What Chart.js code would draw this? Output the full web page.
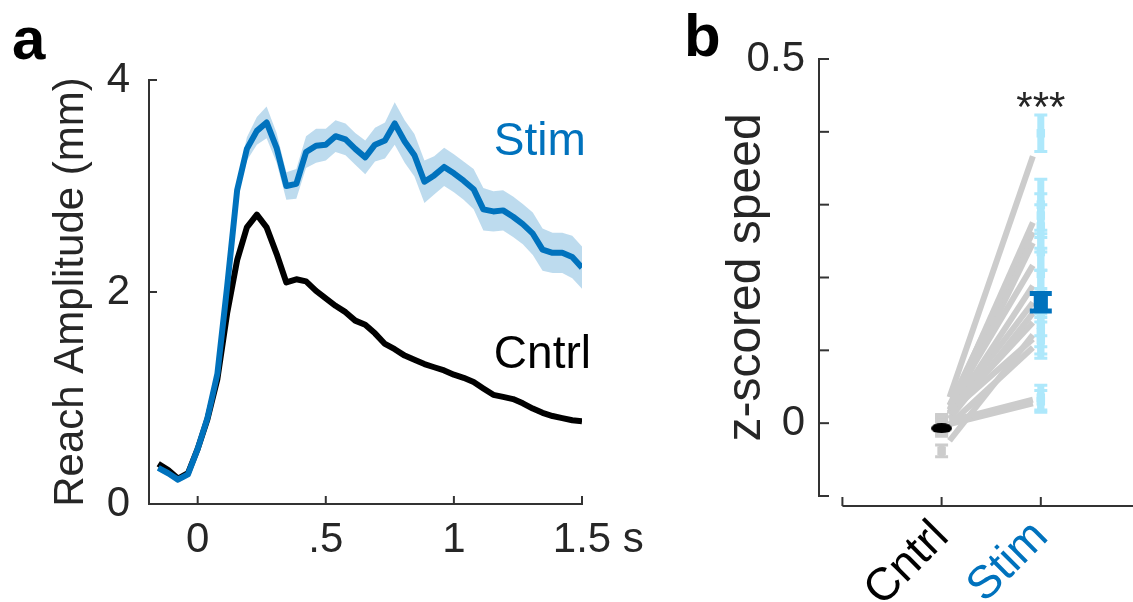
<!DOCTYPE html>
<html>
<head>
<meta charset="utf-8">
<script src="https://cdn.jsdelivr.net/npm/chart.js@4.4.1/dist/chart.umd.min.js"></script>
<style>
body{margin:0;background:#fff;overflow:hidden;width:1133px;height:602px;position:relative;font-family:"Liberation Sans",Arial,sans-serif;}
#cA{position:absolute;left:0;top:0;}
#cB{position:absolute;left:660px;top:0;}
.lbl{position:absolute;font-weight:bold;font-size:60px;line-height:60px;color:#000;}
</style>
</head>
<body>
<div class="lbl" style="left:12px;top:9px">a</div>
<div class="lbl" style="left:684px;top:6px">b</div>
<canvas id="cA" width="660" height="602"></canvas>
<canvas id="cB" width="500" height="602"></canvas>
<script>

/* panel a : reach amplitude over time (s) */
const times=[-0.154,-0.115,-0.077,-0.038,0,0.038,0.077,0.115,0.154,0.192,0.231,0.269,0.308,0.346,0.385,0.423,0.462,0.5,0.538,0.577,0.615,0.654,0.692,0.731,0.769,0.808,0.846,0.885,0.923,0.962,1.0,1.038,1.077,1.115,1.154,1.192,1.231,1.269,1.308,1.346,1.385,1.423,1.462,1.5];

const stimMean=[0.34,0.29,0.23,0.28,0.52,0.81,1.23,2.05,2.96,3.35,3.52,3.60,3.36,3.00,3.02,3.32,3.38,3.39,3.47,3.44,3.35,3.27,3.39,3.43,3.59,3.42,3.29,3.04,3.10,3.18,3.12,3.05,2.97,2.78,2.76,2.77,2.71,2.64,2.55,2.40,2.37,2.37,2.33,2.23];

const stimSem=[0.03,0.03,0.03,0.03,0.03,0.03,0.03,0.05,0.08,0.11,0.13,0.15,0.14,0.13,0.14,0.15,0.16,0.15,0.15,0.15,0.15,0.16,0.16,0.17,0.20,0.20,0.20,0.20,0.18,0.18,0.18,0.18,0.19,0.20,0.19,0.19,0.19,0.19,0.20,0.20,0.19,0.19,0.20,0.20];

const cntrlMean=[0.38,0.32,0.24,0.29,0.52,0.80,1.18,1.80,2.30,2.61,2.73,2.61,2.36,2.09,2.12,2.10,2.01,1.94,1.87,1.81,1.73,1.69,1.61,1.51,1.46,1.40,1.36,1.32,1.29,1.26,1.22,1.19,1.15,1.09,1.03,1.01,0.99,0.95,0.90,0.86,0.83,0.81,0.79,0.78];

const xTicksA=[0,0.5,1,1.5];
const xLabelsA=["0",".5","1","1.5"];
const yTicksA=[0,2,4];

/* panel b : z-scored speed per animal */
const groups=["Cntrl","Stim"];
const cntrlVals=[0.004,-0.006,0.002,-0.010,0.006,-0.003,0.001,-0.008,0.003,-0.038,0.005,-0.012,0.000,-0.004];
const cntrlErr=[0.006,0.006,0.006,0.006,0.006,0.006,0.006,0.006,0.006,0.008,0.006,0.006,0.006,0.006];
const stimVals=[0.398,0.300,0.285,0.270,0.235,0.205,0.180,0.165,0.150,0.135,0.125,0.114,0.035,0.030];
const stimErr=[0.025,0.035,0.030,0.030,0.025,0.030,0.030,0.020,0.030,0.030,0.030,0.025,0.017,0.015];
const groupMean=[-0.007,0.166];
const groupMeanErr=[0.003,0.012];
const yTicksB=[-0.1,0,0.1,0.2,0.3,0.4,0.5];

const blue="#0072bd";
const lightBlue="#aee8fb";
const gray="#cccccc";
const axisCol="#333333";
const textCol="#262626";
const fontFam="'Liberation Sans', Arial, sans-serif";

Chart.defaults.font.family=fontFam;
Chart.defaults.color=textCol;

function pts(ys){
  return times.map((t,i)=>({x:t,y:ys[i]}));
}

function initChartA(){
  const up=stimMean.map((v,i)=>v+stimSem[i]);
  const lo=stimMean.map((v,i)=>v-stimSem[i]);

  const decoA={
    id:"decoA",
    afterDraw(chart){
      const ctx=chart.ctx,xs=chart.scales.x,ys=chart.scales.y;
      ctx.save();
      ctx.strokeStyle=axisCol;
      ctx.lineWidth=2;
      xTicksA.forEach(v=>{
        const p=xs.getPixelForValue(v);
        ctx.beginPath();ctx.moveTo(p,ys.bottom);ctx.lineTo(p,ys.bottom-8);ctx.stroke();
      });
      yTicksA.forEach(v=>{
        const p=ys.getPixelForValue(v);
        ctx.beginPath();ctx.moveTo(xs.left,p);ctx.lineTo(xs.left+8,p);ctx.stroke();
      });
      // unit after last tick label
      ctx.font="42px "+fontFam;
      ctx.fillStyle=textCol;
      ctx.textBaseline="middle";
      ctx.textAlign="left";
      const w=ctx.measureText("1.5").width;
      ctx.fillText(" s",xs.getPixelForValue(1.5)+w/2,xs.top+11+25.2);
      // series names
      ctx.font="46px "+fontFam;
      ctx.textBaseline="alphabetic";
      ctx.fillStyle=blue;
      ctx.fillText("Stim",xs.getPixelForValue(1.156),ys.getPixelForValue(3.29));
      ctx.fillStyle="#000";
      ctx.fillText("Cntrl",xs.getPixelForValue(1.156),ys.getPixelForValue(1.28));
      ctx.restore();
    }
  };

  new Chart(document.getElementById("cA"),{
    type:"line",
    data:{
      datasets:[
        {label:"Stim",data:pts(stimMean),borderColor:blue,borderWidth:6,pointRadius:0,fill:false,borderJoinStyle:"round"},
        {label:"Cntrl",data:pts(cntrlMean),borderColor:"#000",borderWidth:6,pointRadius:0,fill:false,borderJoinStyle:"round"},
        {label:"semUp",data:pts(up),borderColor:"rgba(0,0,0,0)",borderWidth:1,pointRadius:0,backgroundColor:"rgba(0,114,189,0.26)",fill:"+1"},
        {label:"semLo",data:pts(lo),borderColor:"rgba(0,0,0,0)",borderWidth:1,pointRadius:0,fill:false}
      ]
    },
    options:{
      responsive:false,
      animation:false,
      layout:{padding:{top:80,right:78,left:0,bottom:0}},
      plugins:{legend:{display:false},tooltip:{enabled:false}},
      scales:{
        x:{
          type:"linear",min:-0.19,max:1.5,
          grid:{display:false,drawTicks:false},
          border:{display:true,color:axisCol,width:2},
          afterBuildTicks:s=>{s.ticks=xTicksA.map(v=>({value:v}));},
          afterFit:s=>{s.height=98;},
          ticks:{font:{size:42},padding:11,maxRotation:0,autoSkip:false,
            callback:v=>xLabelsA[xTicksA.indexOf(v)]}
        },
        y:{
          min:0,max:4,
          grid:{display:false,drawTicks:false},
          border:{display:true,color:axisCol,width:2},
          afterBuildTicks:s=>{s.ticks=yTicksA.map(v=>({value:v}));},
          afterFit:s=>{s.width=149;},
          ticks:{font:{size:42},padding:19,callback:v=>String(v)},
          title:{display:true,text:"Reach Amplitude (mm)",font:{size:42},color:textCol,padding:{top:46,bottom:0}}
        }
      }
    },
    plugins:[decoA]
  });
}

function ellipseImg(w,h,color){
  const c=document.createElement("canvas");
  c.width=w;c.height=h;
  const g=c.getContext("2d");
  g.fillStyle=color;
  g.beginPath();g.ellipse(w/2,h/2,w/2,h/2,0,0,Math.PI*2);g.fill();
  return c;
}

function initChartB(){
  const gap=0.08;
  const pairLines=stimVals.map((s,i)=>{
    const c=cntrlVals[i];
    return {type:"line",showLine:true,data:[{x:1+gap,y:c+gap*(s-c)},{x:2-gap,y:c+(1-gap)*(s-c)}],
      borderColor:gray,borderWidth:6,pointRadius:0};
  });

  const errBars={
    id:"errBars",
    beforeDatasetDraw(chart,args){
      const ds=chart.data.datasets[args.index];
      if(!ds.errs) return;
      const ctx=chart.ctx,xs=chart.scales.x,ys=chart.scales.y;
      ctx.save();
      ctx.strokeStyle=ds.errColor;
      ds.data.forEach((p,i)=>{
        const x=xs.getPixelForValue(p.x);
        const y1=ys.getPixelForValue(p.y-ds.errs[i]);
        const y2=ys.getPixelForValue(p.y+ds.errs[i]);
        ctx.lineWidth=ds.barW;
        ctx.beginPath();ctx.moveTo(x,y1);ctx.lineTo(x,y2);ctx.stroke();
        ctx.lineWidth=ds.capT;
        ctx.beginPath();
        ctx.moveTo(x-ds.capW/2,y1);ctx.lineTo(x+ds.capW/2,y1);
        ctx.moveTo(x-ds.capW/2,y2);ctx.lineTo(x+ds.capW/2,y2);
        ctx.stroke();
      });
      ctx.restore();
    }
  };

  const decoB={
    id:"decoB",
    afterDraw(chart){
      const ctx=chart.ctx,xs=chart.scales.x,ys=chart.scales.y;
      const base=ys.bottom+10;
      ctx.save();
      ctx.strokeStyle=axisCol;
      ctx.lineWidth=2;
      ctx.beginPath();ctx.moveTo(xs.getPixelForValue(0),base);ctx.lineTo(xs.right,base);ctx.stroke();
      [0,1,2,3].forEach(v=>{
        const p=xs.getPixelForValue(v);
        ctx.beginPath();ctx.moveTo(p,base);ctx.lineTo(p,base-9);ctx.stroke();
      });
      yTicksB.forEach(v=>{
        const p=ys.getPixelForValue(v);
        ctx.beginPath();ctx.moveTo(xs.left,p);ctx.lineTo(xs.left+10,p);ctx.stroke();
      });
      ctx.font="42px "+fontFam;
      ctx.fillStyle=textCol;
      ctx.textAlign="center";
      ctx.textBaseline="alphabetic";
      ctx.fillText("***",xs.getPixelForValue(2),ys.getPixelForValue(0.415));
      ctx.restore();
    }
  };

  const datasets=[
    {label:"cntrlMean",data:[{x:1,y:groupMean[0]}],pointStyle:ellipseImg(21,10,"#000"),pointRadius:6,
      errs:[groupMeanErr[0]],errColor:"#000",barW:4,capT:3,capW:16},
    {label:"stimMean",data:[{x:2,y:groupMean[1]}],pointStyle:"rect",pointRadius:10,backgroundColor:blue,borderColor:blue,borderWidth:0,
      errs:[groupMeanErr[1]],errColor:blue,barW:10,capT:5,capW:22},
    {label:"stim",data:stimVals.map(v=>({x:2,y:v})),pointStyle:"rect",pointRadius:6,backgroundColor:lightBlue,borderColor:lightBlue,borderWidth:0,
      errs:stimErr,errColor:lightBlue,barW:7,capT:3,capW:13}
  ].concat(pairLines).concat([
    {label:"cntrl",data:cntrlVals.map(v=>({x:1,y:v})),pointStyle:"rect",pointRadius:6,backgroundColor:gray,borderColor:gray,borderWidth:0,
      errs:cntrlErr,errColor:gray,barW:6,capT:3,capW:13}
  ]);

  new Chart(document.getElementById("cB"),{
    type:"scatter",
    data:{datasets:datasets},
    options:{
      responsive:false,
      animation:false,
      layout:{padding:{top:59,right:20,left:0,bottom:0}},
      plugins:{legend:{display:false},tooltip:{enabled:false}},
      scales:{
        x:{
          type:"linear",min:-0.236,max:3,
          grid:{display:false,drawTicks:false},
          border:{display:false},
          afterBuildTicks:s=>{s.ticks=[0,1,2,3].map(v=>({value:v}));},
          afterFit:s=>{s.height=106;s.paddingLeft=0;s.paddingRight=0;},
          ticks:{font:{size:46},padding:14,minRotation:45,maxRotation:45,autoSkip:false,
            color:c=>(c.tick&&c.tick.value===2)?blue:"#000",
            callback:v=>(v===1||v===2)?groups[v-1]:""}
        },
        y:{
          min:-0.1,max:0.5,
          grid:{display:false,drawTicks:false},
          border:{display:true,color:axisCol,width:2},
          afterBuildTicks:s=>{s.ticks=yTicksB.map(v=>({value:v}));},
          afterFit:s=>{s.width=159;},
          ticks:{font:{size:42},padding:14,
            callback:v=>(Math.abs(v)<1e-9)?"0":(Math.abs(v-0.5)<1e-9?"0.5":"")},
          title:{display:true,text:"z-scored speed",font:{size:48},color:textCol,padding:{top:58,bottom:0}}
        }
      }
    },
    plugins:[errBars,decoB]
  });
}

window.onload=function(){
  initChartA();
  initChartB();
};
</script>
</body>
</html>
